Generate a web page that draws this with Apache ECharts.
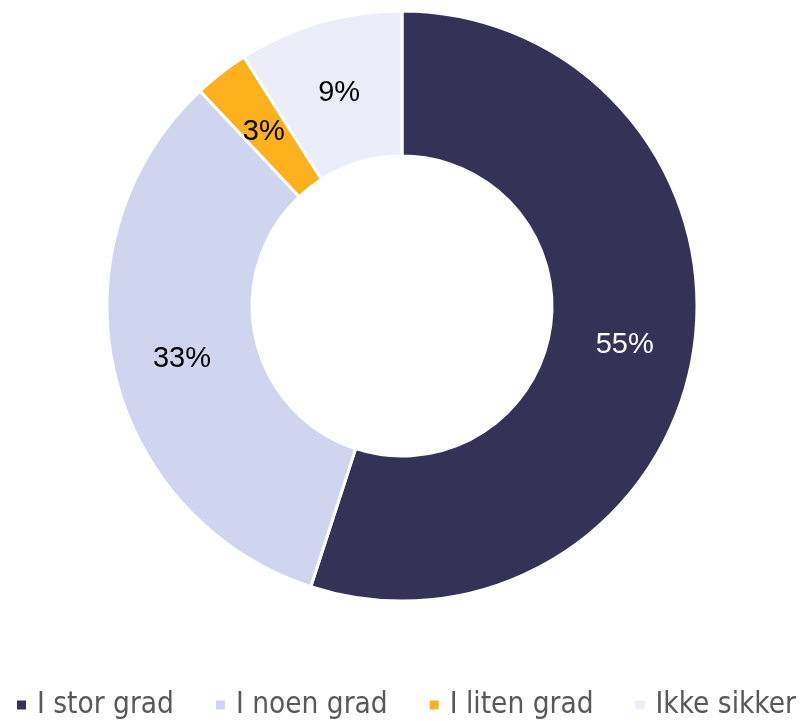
<!DOCTYPE html>
<html><head><meta charset="utf-8">
<script src="https://cdn.jsdelivr.net/npm/echarts@6/dist/echarts.min.js"></script>
<style>html,body{margin:0;padding:0;background:#fff}#c{width:808px;height:721px}</style>
</head><body><div id="c"></div>
<script>
const categories = ["I stor grad", "I noen grad", "I liten grad", "Ikke sikker"];
const values = [55, 33, 3, 9];
const colors = ["#353257", "#CFD5EE", "#FDB11C", "#EBEEF8"];
const labelColors = ["#ffffff", "#000000", "#000000", "#000000"];

const chart = echarts.init(document.getElementById('c'));
chart.setOption({
  animation: false,
  legend: {
    data: categories,
    left: 15, top: 690, padding: 0, width: 800,
    icon: 'rect', itemWidth: 11, itemHeight: 11, itemGap: 40,
    textStyle: { fontFamily: '"DejaVu Sans Condensed", "Roboto", sans-serif', fontSize: 29.5, color: '#595959', padding: [0,0,0,5] }
  },
  series: [{
    type: 'pie',
    center: [402, 306],
    radius: [150, 295],
    startAngle: 90,
    clockwise: true,
    avoidLabelOverlap: false,
    itemStyle: { borderColor: '#ffffff', borderWidth: 3 },
    label: {
      position: 'inside',
      fontFamily: '"Liberation Sans", Arial, sans-serif',
      fontSize: 29,
      offset: [0, 4],
      formatter: p => p.value + '%'
    },
    labelLine: { show: false },
    emphasis: { disabled: true },
    data: categories.map((n, i) => ({
      name: n, value: values[i],
      itemStyle: { color: colors[i] },
      label: { color: labelColors[i] }
    }))
  }]
});
</script></body></html>
